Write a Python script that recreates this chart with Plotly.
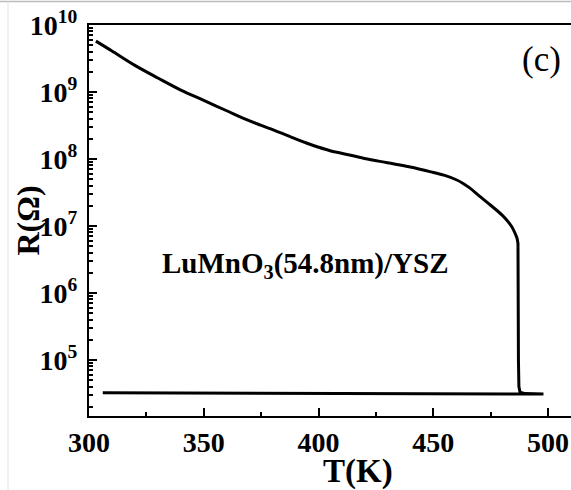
import plotly.graph_objects as go

# Heating branch: temperature (K) and resistance (Ohm) up to the transition
heat_T = [303, 310, 320, 330, 340, 350, 360, 370, 380, 390, 395, 400, 405, 410, 420,
          430, 440, 450, 455, 460, 463, 466, 470, 475, 480, 484, 486.5]
heat_R = [5.75e9, 4.1e9, 2.5e9, 1.62e9, 1.07e9, 7.5e8, 5.25e8, 3.7e8, 2.75e8,
          2.0e8, 1.72e8, 1.5e8, 1.33e8, 1.22e8, 1.02e8, 8.8e7, 7.6e7, 6.3e7, 5.69e7,
          4.9e7, 4.32e7, 3.67e7, 2.82e7, 2.04e7, 1.45e7, 1.0e7, 6.6e6]

# Sharp drop at the transition, then the low-resistance cooling branch
drop_T = [486.5, 486.9, 487.1, 487.3, 487.8, 490, 498, 306]
drop_R = [6.6e6, 5.5e6, 1.0e5, 4.0e4, 3.3e4, 3.15e4, 3.1e4, 3.25e4]

x_ticks = [300, 350, 400, 450, 500]
y_exponents = [5, 6, 7, 8, 9, 10]
y_ticks = [10 ** e for e in y_exponents]
y_ticktext = [f"10<sup>{e}</sup>" for e in y_exponents]

sample_label = "LuMnO<sub>3</sub>(54.8nm)/YSZ"
panel_label = "(c)"

serif = "Liberation Serif"

fig = go.Figure()
fig.add_trace(go.Scatter(
    x=heat_T, y=heat_R, mode="lines", line_shape="spline",
    line=dict(color="black", width=3, smoothing=1.0), showlegend=False,
))
fig.add_trace(go.Scatter(
    x=drop_T, y=drop_R, mode="lines",
    line=dict(color="black", width=3), showlegend=False,
))

fig.update_layout(
    width=571, height=490,
    margin=dict(l=89, r=0, t=25, b=74),
    paper_bgcolor="white", plot_bgcolor="white",
    font=dict(family=serif, color="black"),
    xaxis=dict(
        range=[300, 510], tickvals=x_ticks,
        ticks="inside", ticklen=8, tickwidth=2, tickcolor="black",
        showline=True, linewidth=2, linecolor="black", mirror=True,
        showgrid=False, zeroline=False,
        tickfont=dict(family=serif, size=28, color="black", weight="bold"),
        minor=dict(ticks="inside", ticklen=4, tickwidth=2, tickcolor="black", dtick=25),
    ),
    yaxis=dict(
        type="log", range=[4.164, 10], tickvals=y_ticks, ticktext=y_ticktext,
        ticks="inside", ticklen=8, tickwidth=2, tickcolor="black",
        showline=True, linewidth=2, linecolor="black",
        showgrid=False, zeroline=False,
        tickfont=dict(family=serif, size=28, color="black", weight="bold"),
        ticklabelstandoff=4,
        minor=dict(ticks="inside", ticklen=4, tickwidth=1.5, tickcolor="black", dtick="D1"),
    ),
    annotations=[
        dict(text="T(K)", xref="paper", yref="paper", x=(358 - 89) / 482,
             y=-(471 - 416) / 391,
             xanchor="center", yanchor="middle", showarrow=False,
             font=dict(family=serif, size=33, weight="bold", color="black")),
        dict(text="R(Ω)", xref="paper", yref="paper", x=-(89 - 27) / 482, y=0.5,
             xanchor="center", yanchor="middle", showarrow=False, textangle=-90,
             font=dict(family=serif, size=32, weight="bold", color="black")),
        dict(text=sample_label, xref="paper", yref="paper", x=(305 - 89) / 482,
             y=(416 - 265) / 391, xanchor="center", yanchor="middle", showarrow=False,
             font=dict(family=serif, size=29, weight="bold", color="black")),
        dict(text=panel_label, xref="paper", yref="paper", x=(541 - 89) / 482,
             y=(416 - 60) / 391, xanchor="center", yanchor="middle", showarrow=False,
             font=dict(family=serif, size=35, color="black")),
    ],
    shapes=[
        dict(type="line", xref="paper", yref="paper", x0=-89 / 482, x1=1,
             y0=(416 - 1.5) / 391, y1=(416 - 1.5) / 391,
             line=dict(color="#bbbbbb", width=1.5)),
        dict(type="line", xref="paper", yref="paper", x0=-(89 - 8) / 482, x1=-(89 - 8) / 482,
             y0=-74 / 391, y1=(416 - 1.5) / 391,
             line=dict(color="#e4e4e4", width=1)),
    ],
)

fig.write_html("out.html")
